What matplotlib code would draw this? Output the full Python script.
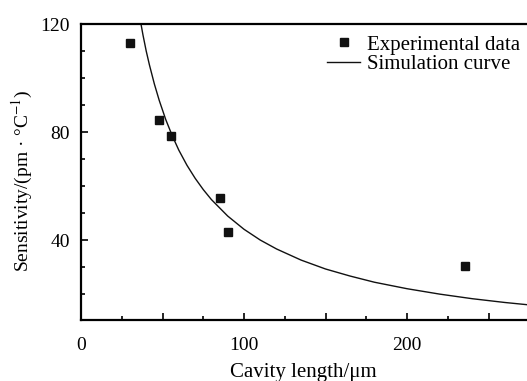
import matplotlib.pyplot as plt
from matplotlib.ticker import MultipleLocator, FuncFormatter

plt.rcParams['font.family'] = ['Liberation Serif', 'DejaVu Serif']
plt.rcParams['mathtext.fontset'] = 'stix'

# 实验数据点
exp_x = [30.1, 48.0, 55.2, 85.1, 90.4, 235.4]
exp_y = [113.0, 84.3, 78.4, 55.6, 43.0, 30.5]

# 仿真曲线
sim_x = [36.8, 38, 40, 42, 45, 48, 52, 56, 60, 65, 70, 75, 80, 90, 100, 110, 120,
         135, 150, 165, 180, 200, 220, 240, 260, 275]
sim_y = [120.0, 116.0, 110.0, 104.8, 97.8, 91.7, 84.6, 78.6, 73.3, 67.7, 62.9, 58.7,
         55.0, 48.9, 44.0, 40.0, 36.7, 32.6, 29.3, 26.7, 24.4, 22.0, 20.0, 18.3,
         16.9, 16.0]

fig = plt.figure(figsize=(5.27, 3.81), dpi=100)
ax = fig.add_axes([0.1537, 0.160, 0.8463, 0.777])

ax.plot(exp_x, exp_y, 's', color='#111111', markersize=6, linestyle='none',
        label='Experimental data', clip_on=False)
ax.plot(sim_x, sim_y, '-', color='#111111', linewidth=1.0, label='Simulation curve')

ax.set_xlim(0, 273.6)
ax.set_ylim(10.4, 120)

ax.xaxis.set_major_locator(MultipleLocator(50))
ax.xaxis.set_minor_locator(MultipleLocator(25))
ax.xaxis.set_major_formatter(FuncFormatter(lambda v, p: '%d' % v if v % 100 == 0 else ''))
ax.yaxis.set_major_locator(MultipleLocator(40))
ax.yaxis.set_minor_locator(MultipleLocator(10))

ax.tick_params(which='both', direction='in', width=1.2, labelsize=14, pad=8,
               top=False, right=False)
ax.tick_params(axis='x', which='both', pad=12)
ax.tick_params(which='major', length=5)
ax.tick_params(which='minor', length=3)

for s in ['left', 'bottom', 'top']:
    ax.spines[s].set_linewidth(1.6)
ax.spines['right'].set_visible(False)

ax.set_xlabel('Cavity length/μm', fontsize=15)
ax.set_ylabel('Sensitivity/(pm · °C$^{-1}$)', fontsize=14)
ax.xaxis.set_label_coords(0.498, -0.145)
ax.yaxis.set_label_coords(-0.104, 0.47)

ax.legend(loc='upper right', bbox_to_anchor=(1.012, 1.005), frameon=False, fontsize=15,
          handlelength=1.6, handletextpad=0.3, labelspacing=0.0, borderaxespad=0.2)

fig.savefig('out.png', dpi=100)
